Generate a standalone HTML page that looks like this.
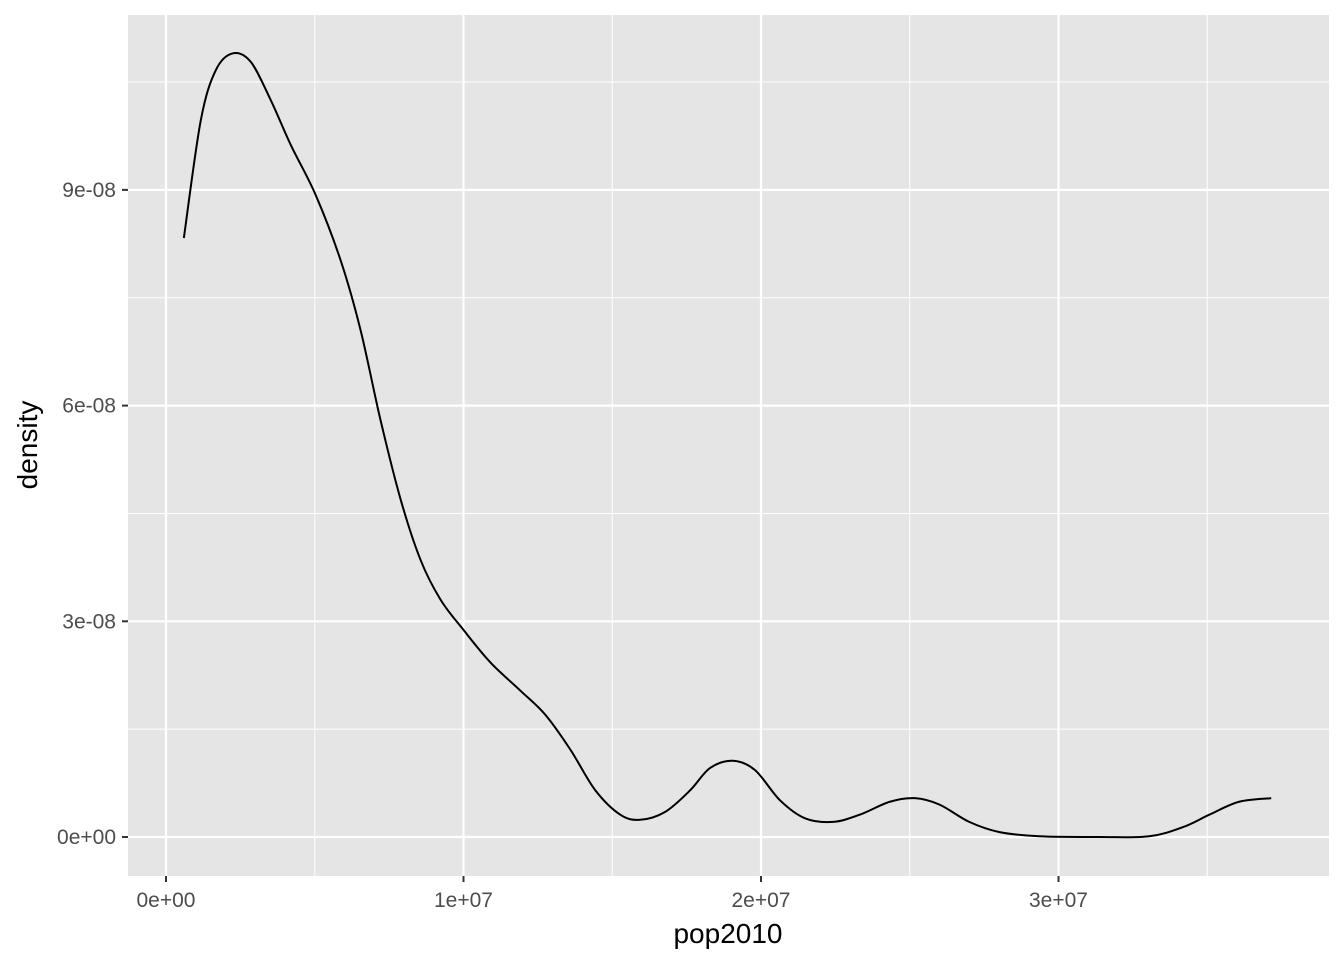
<!DOCTYPE html>
<html><head><meta charset="utf-8">
<style>
html,body{margin:0;padding:0;background:#fff;}
svg{display:block;font-family:"Liberation Sans",Arial,sans-serif;}
</style></head>
<body>
<svg id="chart" width="1344" height="960">
<rect x="128" y="15" width="1201" height="861" fill="#e5e5e5"/>
<g id="grid"></g>
<path id="curve" fill="none" stroke="#000" stroke-width="2"/>
<g id="axes"></g>
<text x="728" y="943" font-size="28" text-anchor="middle" fill="#000">pop2010</text>
<text transform="translate(37,445) rotate(-90)" font-size="28" text-anchor="middle" fill="#000">density</text>
</svg>
<script>
const xs = [0.06e7,0.117e7,0.168e7,0.225e7,0.285e7,0.352e7,0.42e7,0.503e7,0.587e7,0.654e7,0.721e7,0.789e7,0.856e7,0.923e7,1.0e7,1.09e7,1.19e7,1.275e7,1.36e7,1.443e7,1.527e7,1.594e7,1.678e7,1.762e7,1.829e7,1.906e7,1.98e7,2.064e7,2.148e7,2.242e7,2.332e7,2.433e7,2.517e7,2.6e7,2.7e7,2.8e7,2.936e7,3.14e7,3.305e7,3.42e7,3.507e7,3.607e7,3.715e7];
const ys = [8.33,9.97,10.67,10.9,10.78,10.25,9.62,8.93,8.02,7.05,5.8,4.69,3.85,3.3,2.88,2.43,2.04,1.7,1.21,0.65,0.31,0.24,0.35,0.65,0.96,1.06,0.93,0.51,0.26,0.21,0.31,0.49,0.54,0.45,0.21,0.07,0.01,0,0.01,0.14,0.31,0.49,0.54].map(v=>v*1e-8);
const xTicks = [0,1e7,2e7,3e7];
const xTickLabels = ["0e+00","1e+07","2e+07","3e+07"];
const yTicks = [0,3e-8,6e-8,9e-8];
const yTickLabels = ["0e+00","3e-08","6e-08","9e-08"];

const X = v => 166 + v/1e7*297.5;
const Y = v => 837 - v/3e-8*215.7;
const NS = "http://www.w3.org/2000/svg";
const grid = document.getElementById('grid'), axes = document.getElementById('axes');
function line(g,x1,y1,x2,y2,stroke,w){const l=document.createElementNS(NS,'line');
l.setAttribute('x1',x1);l.setAttribute('y1',y1);l.setAttribute('x2',x2);l.setAttribute('y2',y2);
l.setAttribute('stroke',stroke);l.setAttribute('stroke-width',w);g.appendChild(l);return l;}
for(let i=0;i<xTicks.length;i++){const m=xTicks[i]+0.5e7;const l=line(grid,X(m),15,X(m),876,'#fff',1);

}
for(let i=0;i<yTicks.length;i++){const m=yTicks[i]+1.5e-8;const l=line(grid,128,Y(m),1329,Y(m),'#fff',1);

}
xTicks.forEach((t,i)=>{
 const g=line(grid,X(t),15,X(t),876,'#fff',2.2);
 
 
 const k=line(axes,X(t),876,X(t),882,'#333',2);
 
 
 const tx=document.createElementNS(NS,'text');tx.setAttribute('x',X(t));tx.setAttribute('y',907);
 tx.setAttribute('text-anchor','middle');tx.setAttribute('font-size','21');tx.setAttribute('fill','#4d4d4d');
 tx.textContent=xTickLabels[i];
 
 
 axes.appendChild(tx);
});
yTicks.forEach((t,i)=>{
 const g=line(grid,128,Y(t),1329,Y(t),'#fff',2.2);
 
 
 const k=line(axes,122,Y(t),128,Y(t),'#333',2);
 
 
 const tx=document.createElementNS(NS,'text');tx.setAttribute('x',116);tx.setAttribute('y',Y(t)+7);
 tx.setAttribute('text-anchor','end');tx.setAttribute('font-size','21');tx.setAttribute('fill','#4d4d4d');
 tx.textContent=yTickLabels[i];
 
 
 axes.appendChild(tx);
});
const P = xs.map((x,i)=>[X(x),Y(ys[i])]);
let d=`M${P[0][0]},${P[0][1]}`;
for(let i=0;i<P.length-1;i++){
 const p0=P[Math.max(0,i-1)],p1=P[i],p2=P[i+1],p3=P[Math.min(P.length-1,i+2)];
 const c1=[p1[0]+(p2[0]-p0[0])/6,p1[1]+(p2[1]-p0[1])/6];
 const c2=[p2[0]-(p3[0]-p1[0])/6,p2[1]-(p3[1]-p1[1])/6];
 d+=` C${c1[0]},${c1[1]} ${c2[0]},${c2[1]} ${p2[0]},${p2[1]}`;
}
document.getElementById('curve').setAttribute('d',d);
</script>
</body></html>
